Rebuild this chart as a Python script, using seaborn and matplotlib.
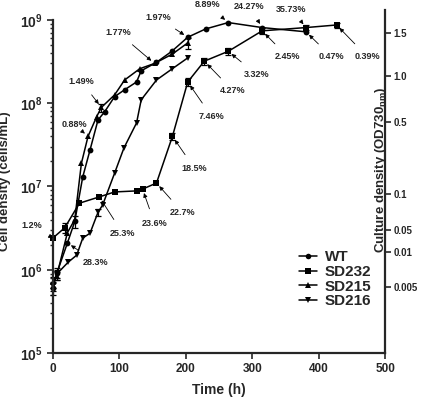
import numpy as np
import pandas as pd
import seaborn as sns
import matplotlib.pyplot as plt
from matplotlib.lines import Line2D

## data (time in h, cell density in cells/mL)
wt_t = [0, 6, 22, 33, 45, 56, 68, 78, 93, 108, 126, 133, 156, 179, 203, 230, 264, 315, 381]
wt_y = [6.0e5, 9.1e5, 2.1e6, 3.8e6, 1.3e7, 2.75e7, 6.3e7, 7.9e7, 1.2e8, 1.45e8,
        1.8e8, 2.45e8, 3.1e8, 4.2e8, 6.2e8, 7.8e8, 9.3e8, 8.1e8, 7.2e8]
wt_err = [1.0e5, 1.5e5, 0, 6e5, 0, 0, 0, 0, 0, 0, 0, 0, 0, 0, 0, 0, 0, 0, 0]

sd232_t = [0, 18, 40, 70, 93, 126, 135, 156, 180, 203, 228, 264, 315, 381, 427]
sd232_y = [2.4e6, 3.2e6, 6.3e6, 7.5e6, 8.6e6, 8.85e6, 9.3e6, 1.1e7, 4.0e7, 1.8e8,
           3.2e8, 4.2e8, 7.4e8, 8.1e8, 8.7e8]
sd232_err = [0, 4e5, 0, 0, 0, 0, 0, 0, 4e6, 2e7, 3e7, 4e7, 6e7, 6e7, 6e7]

sd215_t = [0, 6, 22, 33, 43, 53, 66, 73, 93, 108, 131, 153, 180, 203]
sd215_y = [7.1e5, 8.5e5, 2.8e6, 4.0e6, 1.9e7, 4.0e7, 6.9e7, 8.9e7, 1.26e8, 1.9e8,
           2.6e8, 3.0e8, 3.9e8, 5.3e8]
sd215_err = [1e5, 1e5, 0, 0, 0, 0, 0, 1e7, 0, 0, 0, 0, 0, 8e7]

sd216_t = [0, 6, 23, 36, 45, 56, 68, 75, 93, 107, 126, 133, 156, 180, 203]
sd216_y = [6.3e5, 8.9e5, 1.23e6, 1.5e6, 2.4e6, 2.75e6, 4.9e6, 6.0e6, 1.45e7, 2.9e7,
           5.8e7, 1.1e8, 1.9e8, 2.6e8, 3.5e8]
sd216_err = [0.8e5, 1e5, 0, 0, 0, 0, 5e5, 0, 0, 0, 0, 0, 0, 0, 0]

strains = ["WT", "SD232", "SD215", "SD216"]
markers = {"WT": "o", "SD232": "s", "SD215": "^", "SD216": "v"}

# right axis (OD730) labels and where they sit on the cell-density scale
od_labels = ["1.5", "1.0", "0.5", "0.1", "0.05", "0.01", "0.005"]
od_pos = [10**8.846, 10**8.329, 10**7.776, 10**6.905, 10**6.478, 10**6.214, 10**5.793]

# annotations: text, (series, index of point), text position (t, density)
notes = [
    ("1.2%", "SD232", 0, (-31, 10**6.53)),
    ("28.3%", "WT", 2, (65, 10**6.09)),
    ("25.3%", "SD232", 3, (105, 10**6.44)),
    ("23.6%", "SD232", 6, (153, 10**6.56)),
    ("22.7%", "SD232", 7, (195, 10**6.69)),
    ("18.5%", "SD232", 8, (213, 10**7.22)),
    ("7.46%", "SD232", 9, (239, 10**7.84)),
    ("4.27%", "SD232", 10, (271, 10**8.15)),
    ("3.32%", "SD232", 11, (306, 10**8.35)),
    ("2.45%", "SD232", 12, (353, 10**8.56)),
    ("0.47%", "WT", 18, (419, 10**8.56)),
    ("0.39%", "SD232", 14, (473, 10**8.56)),
    ("0.88%", "SD215", 5, (33, 10**7.74)),
    ("1.49%", "SD215", 7, (43, 10**8.26)),
    ("1.77%", "SD215", 11, (98, 10**8.85)),
    ("1.97%", "WT", 14, (158, 10**9.03)),
    ("8.89%", "WT", 16, (233, 10**9.18)),
    ("24.27%", "WT", 17, (296, 10**9.16)),
    ("35.73%", "SD232", 13, (359, 10**9.13)),
]

series = {
    "WT": (wt_t, wt_y, wt_err),
    "SD232": (sd232_t, sd232_y, sd232_err),
    "SD215": (sd215_t, sd215_y, sd215_err),
    "SD216": (sd216_t, sd216_y, sd216_err),
}

df = pd.concat(
    [pd.DataFrame({"time": t, "density": y, "err": e, "strain": s}) for s, (t, y, e) in series.items()],
    ignore_index=True,
)

#%% plot
sns.set_style("ticks")
plt.rcParams.update({
    "font.family": ["Liberation Sans", "DejaVu Sans"],
    "font.weight": "bold",
    "mathtext.fontset": "custom",
    "mathtext.rm": "Liberation Sans:bold",
    "mathtext.bf": "Liberation Sans:bold",
    "mathtext.it": "Liberation Sans:bold",
    "axes.linewidth": 1.6,
    "xtick.major.width": 1.2,
    "ytick.major.width": 1.2,
    "ytick.minor.width": 1.0,
})

fig = plt.figure(figsize=(4.26, 3.98), dpi=100)
ax = fig.add_axes([0.124, 0.113, 0.78, 0.862])

sns.lineplot(
    data=df, x="time", y="density", hue="strain", style="strain",
    hue_order=strains, style_order=strains,
    palette=["black"] * 4, markers=markers, dashes=False,
    markersize=4.2, markeredgewidth=0, linewidth=1.1, legend=False,
    ax=ax, clip_on=False, estimator=None, sort=False,
)
sub = df[df.err > 0]
ax.errorbar(sub.time, sub.density, yerr=sub.err, fmt="none", ecolor="black",
            elinewidth=0.9, capsize=2.2, capthick=0.9, clip_on=False)

ax.set_yscale("log")
ax.set_xlim(0, 500)
ax.set_ylim(1e5, 10**9.12)
ax.spines["top"].set_visible(False)
ax.spines["right"].set_visible(False)
ax.spines["left"].set_bounds(1e5, 1e9)
ax.set_xticks([0, 100, 200, 300, 400, 500])
ax.set_yticks([1e5, 1e6, 1e7, 1e8, 1e9])
ax.set_yticklabels([r"$\mathbf{10^{%d}}$" % p for p in range(5, 10)])
ax.yaxis.set_minor_locator(plt.matplotlib.ticker.LogLocator(base=10, subs=np.arange(2, 10), numticks=20))
ax.yaxis.set_minor_formatter(plt.NullFormatter())
ax.tick_params(axis="both", which="major", labelsize=8.5, length=4, direction="out")
ax.tick_params(axis="y", which="minor", length=2.5, direction="out")
ax.tick_params(axis="y", which="major", labelsize=10)

ax.set_xlabel("Time (h)", fontsize=10, fontweight="bold")
ax.xaxis.set_label_coords(0.5, -0.088)
ax.set_ylabel("Cell density (cells/mL)", fontsize=9.5, fontweight="bold")
ax.yaxis.set_label_coords(-0.125, 0.5)

ax2 = ax.twinx()
ax2.set_yscale("log")
ax2.set_ylim(ax.get_ylim())
for sp in ["top", "left", "bottom"]:
    ax2.spines[sp].set_visible(False)
ax2.set_yticks(od_pos)
ax2.set_yticklabels(od_labels)
ax2.yaxis.set_minor_locator(plt.NullLocator())
ax2.tick_params(axis="y", which="major", labelsize=7, length=4, pad=2)
ax2.set_ylabel(r"Culture density (OD730$_{\mathbf{nm}}$)", fontsize=9.5, fontweight="bold")
ax2.yaxis.set_label_coords(0.965, 0.535)

for text, s, i, xytext in notes:
    t, y, _ = series[s]
    ax.annotate(
        text, xy=(t[i], y[i]), xytext=xytext, xycoords="data", textcoords="data",
        fontsize=6.5, fontweight="bold", ha="center", va="center", annotation_clip=False,
        arrowprops=dict(arrowstyle="-|>", color="black", lw=0.6, mutation_scale=6,
                        shrinkA=5, shrinkB=3),
    )

handles = [Line2D([], [], color="black", marker=markers[s], markersize=4, lw=1.1, markeredgewidth=0)
           for s in strains]
ax.legend(handles, strains, loc="upper left", bbox_to_anchor=(0.74, 0.30), frameon=False,
          handlelength=1.2, handletextpad=0.5, labelspacing=0.05,
          borderpad=0, borderaxespad=0, prop={"weight": "bold", "size": 11})

fig.savefig("out.png", dpi=100)
